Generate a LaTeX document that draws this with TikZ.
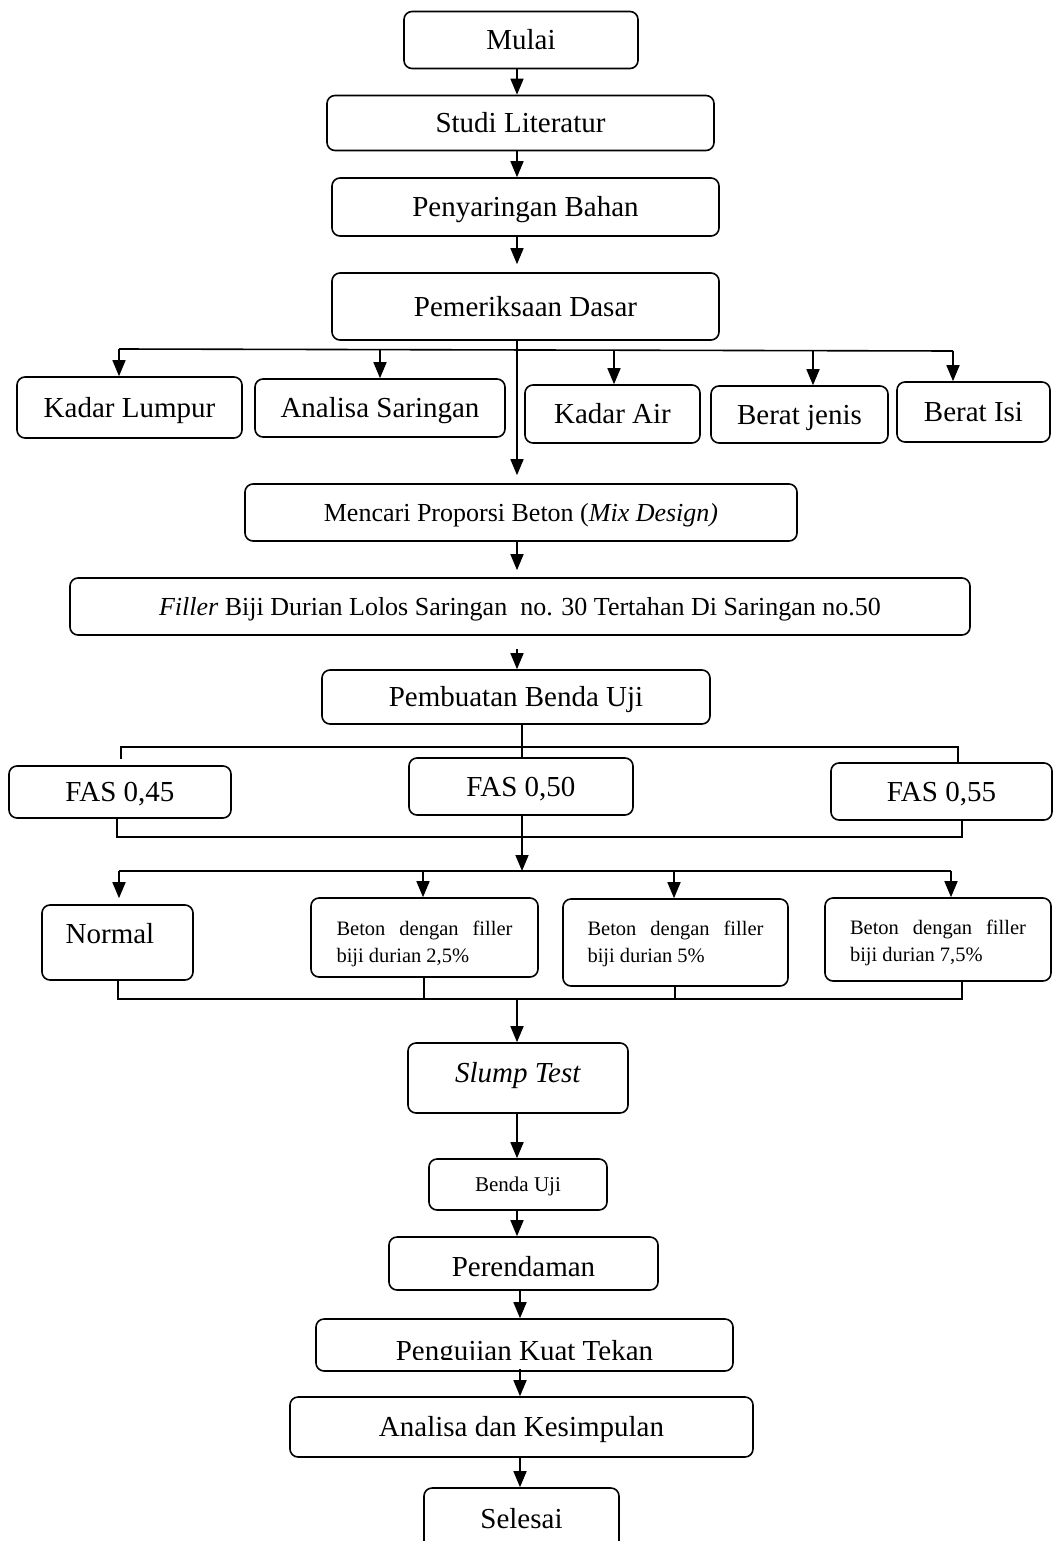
\documentclass[tikz,border=0pt]{standalone}
\usepackage{fontspec}
\setmainfont{Liberation Serif}
\usetikzlibrary{arrows.meta}
\newcommand{\betontext}[1]{\parbox[t]{176pt}{\hbox to 176pt{Beton\hfill dengan\hfill filler}biji durian #1}}
\begin{document}
\begin{tikzpicture}[x=1pt,y=-1pt,
  box/.style={draw, line width=1.6pt, rounded corners=8pt, inner sep=0pt, align=center,
              font=\fontsize{29}{34}\selectfont, text height=19pt, text depth=0pt},
  midbox/.style={box, font=\fontsize{26}{31}\selectfont, text height=17pt},
  betonbox/.style={draw, line width=1.6pt, rounded corners=8pt, inner sep=0pt,
              font=\fontsize{20.5}{27}\selectfont},
  ujibox/.style={box, font=\fontsize{21}{25}\selectfont, text height=14pt},
  ln/.style={line width=1.6pt},
  arr/.style={ln, -{Triangle[width=13pt,length=16pt]}},
]
\useasboundingbox (0,0) rectangle (1054,1541);

% boxes
\node[box, minimum width=234pt, minimum height=57pt] (mulai) at (521,40) {Mulai};
\node[box, minimum width=387pt, minimum height=55pt] (studi) at (520.5,123) {Studi Literatur};
\node[box, minimum width=387pt, minimum height=58pt] (peny) at (525.5,207) {Penyaringan Bahan};
\node[box, minimum width=387pt, minimum height=67pt] (pem) at (525.5,306.5) {Pemeriksaan Dasar};

\node[box, minimum width=225pt, minimum height=61pt] (lumpur) at (129.5,407.5) {Kadar Lumpur};
\node[box, minimum width=250pt, minimum height=58pt] (analisa) at (380,408) {Analisa Saringan};
\node[box, minimum width=175pt, minimum height=58pt] (air) at (612.5,414) {Kadar Air};
\node[box, minimum width=177pt, minimum height=57pt] (bj) at (799.5,414.5) {Berat jenis};
\node[box, minimum width=153pt, minimum height=60pt] (isi) at (973.5,412) {Berat Isi};

\node[midbox, minimum width=552pt, minimum height=57pt] (mix) at (521,512.5) {Mencari Proporsi Beton (\textit{Mix Design)}};
\node[midbox, minimum width=900pt, minimum height=57pt] (filler) at (520,606.5) {\textit{Filler} Biji Durian Lolos Saringan\ \ no. 30 Tertahan Di Saringan no.50};
\node[box, minimum width=388pt, minimum height=54pt] (buat) at (516,697) {Pembuatan Benda Uji};

\node[box, minimum width=222pt, minimum height=52pt] (fas45) at (120,792) {FAS 0,45};
\node[box, minimum width=224pt, minimum height=57pt] (fas50) at (521,786.5) {FAS 0,50};
\node[box, minimum width=221pt, minimum height=57pt] (fas55) at (941.5,791.5) {FAS 0,55};

\node[box, minimum width=151pt, minimum height=75pt, text depth=18pt] (normal) at (117.5,942.5) {Normal\kern15pt};
\node[betonbox, minimum width=227pt, minimum height=79pt, text height=20pt, text depth=25pt] (b25) at (424.5,937.5) {\betontext{2,5\%}};
\node[betonbox, minimum width=225pt, minimum height=87pt, text height=20pt, text depth=35pt] (b50) at (675.5,942.5) {\betontext{5\%}};
\node[betonbox, minimum width=226pt, minimum height=83pt, text height=20pt, text depth=31pt] (b75) at (938,939.5) {\betontext{7,5\%}};

\node[box, minimum width=220pt, minimum height=70pt, text depth=10pt] (slump) at (518,1078) {\textit{Slump Test}};
\node[ujibox, minimum width=178pt, minimum height=51pt] (uji) at (518,1184.5) {Benda Uji};
\node[box, minimum width=269pt, minimum height=53pt, text height=25pt] (rendam) at (523.5,1263.5) {Perendaman};
\node[box, minimum width=417pt, minimum height=52pt, text height=30pt] (kuat) at (524.5,1345) {Pengujian Kuat Tekan};
\node[box, minimum width=463pt, minimum height=60pt] (simpul) at (521.5,1427) {Analisa dan Kesimpulan};
\node[box, minimum width=195pt, minimum height=72pt, text depth=10pt] (selesai) at (521.5,1524) {Selesai};

% the text frame of this box cuts the descenders
\fill[white] ([xshift=16pt,yshift=-14.5pt]kuat.west) rectangle ([xshift=-16pt,yshift=3pt]kuat.south east);

% column coordinates
\coordinate (ca) at (517,0);
\coordinate (cb) at (520,0);
\coordinate (cc) at (522,0);

% top chain
\draw[arr] (ca |- mulai.south) -- (ca |- studi.north);
\draw[arr] (ca |- studi.south) -- (ca |- peny.north);
\draw[arr] (ca |- peny.south) -- ([yshift=8pt]ca |- pem.north);

% tests bus
\coordinate (qa) at (119,349);
\coordinate (qb) at (380,349);
\coordinate (qc) at (614,350);
\coordinate (qd) at (813,351);
\coordinate (qe) at (953,351);
\draw[ln] (qa) -- (qe);
\draw[arr] (qa) -- (qa |- lumpur.north);
\draw[arr] (qb) -- (qb |- analisa.north);
\draw[arr] (qc) -- (qc |- air.north);
\draw[arr] (qd) -- (qd |- bj.north);
\draw[arr] (qe) -- (qe |- isi.north);
\draw[arr] (ca |- pem.south) -- ([yshift=8pt]ca |- mix.north);

\draw[arr] (ca |- mix.south) -- ([yshift=7pt]ca |- filler.north);
\draw[arr, shorten <=13pt] (ca |- filler.south) -- (ca |- buat.north);

% FAS bus
\coordinate (ra) at (121,747);
\coordinate (rb) at (958,747);
\draw[ln] (cc |- buat.south) -- (cc |- fas50.north);
\draw[ln] ([yshift=6pt]ra |- fas45.north) -- (ra) -- (rb) -- (rb |- fas55.north);
\coordinate (sa) at (117,837);
\coordinate (sb) at (962,837);
\draw[ln] (sa |- fas45.south) -- (sa) -- (sb) -- (sb |- fas55.south);

% variation bus
\coordinate (ta) at (119,871);
\coordinate (tb) at (423,871);
\coordinate (tc) at (674,871);
\coordinate (td) at (951,871);
\draw[arr] (cc |- fas50.south) -- (cc |- ta);
\draw[ln] (ta) -- (td);
\draw[arr] (ta) -- ([yshift=6pt]ta |- normal.north);
\draw[arr] (tb) -- (tb |- b25.north);
\draw[arr] (tc) -- (tc |- b50.north);
\draw[arr] (td) -- (td |- b75.north);

\coordinate (ua) at (118,999);
\coordinate (ub) at (424,999);
\coordinate (uc) at (675,999);
\coordinate (ud) at (962,999);
\draw[ln] (ua |- normal.south) -- (ua) -- (ud) -- (ud |- b75.south);
\draw[ln] (ub |- b25.south) -- (ub);
\draw[ln] (uc |- b50.south) -- (uc);

% lower chain
\draw[arr] (ca |- ua) -- (ca |- slump.north);
\draw[arr] (ca |- slump.south) -- (ca |- uji.north);
\draw[arr] (ca |- uji.south) -- (ca |- rendam.north);
\draw[arr] (cb |- rendam.south) -- (cb |- kuat.north);
\draw[arr, shorten <=-3pt] (cb |- kuat.south) -- (cb |- simpul.north);
\draw[arr] (cb |- simpul.south) -- (cb |- selesai.north);
\end{tikzpicture}
\end{document}
